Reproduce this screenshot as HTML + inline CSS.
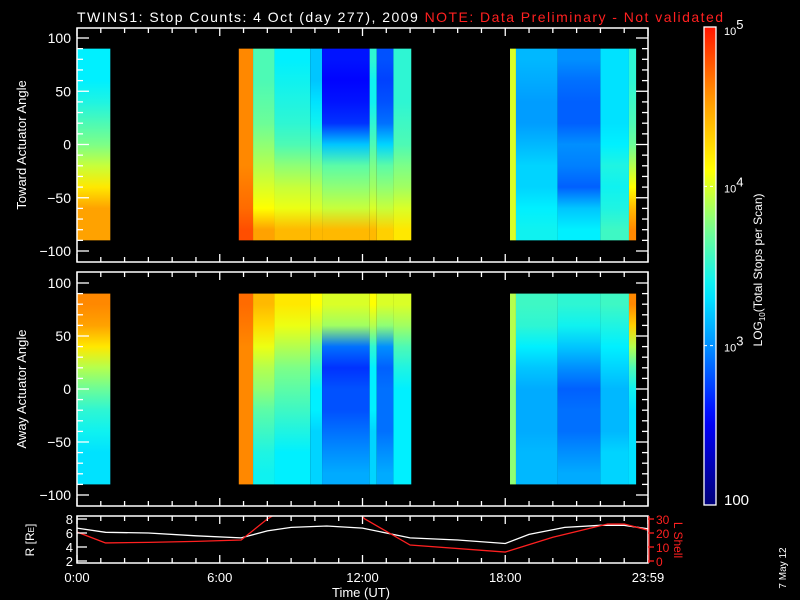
<!DOCTYPE html>
<html><head><meta charset="utf-8"><style>
html,body{margin:0;padding:0;background:#000;}
svg{display:block;font-family:"Liberation Sans",sans-serif;}
</style></head><body>
<svg id="chart" width="800" height="600" viewBox="0 0 800 600">
<defs id="defs"></defs>
<text x="77" y="22" font-size="14" fill="#fff" textLength="646" lengthAdjust="spacing">TWINS1: Stop Counts:  4 Oct (day 277), 2009  <tspan fill="#ff2020">NOTE: Data Preliminary - Not validated</tspan></text>
<g id="spec1"></g>
<g id="spec2"></g>
<g id="orbit"></g>
<g id="axes"></g>
<g id="cbar"></g>
<text transform="translate(26,145) rotate(-90)" text-anchor="middle" font-size="13" fill="#fff">Toward Actuator Angle</text>
<text transform="translate(26,389) rotate(-90)" text-anchor="middle" font-size="13" fill="#fff">Away Actuator Angle</text>
<text transform="translate(34,540) rotate(-90)" text-anchor="middle" font-size="12" fill="#fff">R [R<tspan font-size="8">E</tspan>]</text>
<text transform="translate(674,540) rotate(90)" text-anchor="middle" font-size="12" fill="#ff2020">L Shell</text>
<text x="361" y="597" text-anchor="middle" font-size="13" fill="#fff">Time (UT)</text>
<text transform="translate(762,270) rotate(-90)" text-anchor="middle" font-size="12" fill="#fff">LOG<tspan font-size="8" dy="3">10</tspan><tspan dy="-3">(Total Stops per Scan)</tspan></text>
<text transform="translate(786,568) rotate(-90)" text-anchor="middle" font-size="10" fill="#fff">7 May 12</text>
</svg>
<script>
// ---- data ----
const colStart=[0,6.8,7.4,8.3,9.8,10.3,12.3,12.6,13.3,18.2,18.45,20.2,22.0,23.2];
const colEnd=[1.4,7.4,8.3,9.8,10.3,12.3,12.6,13.3,14.05,18.45,20.2,22.0,23.2,23.5];
const angleBins=[80,60,40,20,0,-20,-40,-60,-80];
const towardVals=[
[3.35,3.35,3.45,3.6,3.75,3.95,4.2,4.5,4.5],
[4.6,4.6,4.6,4.6,4.6,4.6,4.65,4.7,4.8],
[3.6,3.6,3.65,3.7,3.8,3.9,4.0,4.1,4.5],
[3.35,3.4,3.45,3.5,3.6,3.8,3.95,4.05,4.4],
[3.2,3.2,3.3,3.4,3.55,3.75,3.9,4.0,4.4],
[2.6,2.55,2.6,2.7,3.2,3.65,3.8,3.95,4.4],
[3.5,3.4,3.4,3.5,3.6,3.75,3.85,4.0,4.4],
[2.8,2.75,2.8,2.9,3.25,3.65,3.8,3.95,4.3],
[3.5,3.5,3.5,3.55,3.6,3.75,3.85,4.0,4.2],
[4.0,4.0,4.0,4.0,4.0,4.0,4.0,4.0,4.0],
[3.15,3.1,3.05,3.05,3.15,3.25,3.25,3.35,3.4],
[3.0,2.9,2.85,2.85,3.0,2.95,2.85,3.2,3.35],
[3.3,3.3,3.3,3.3,3.35,3.45,3.4,3.45,3.55],
[3.5,3.5,3.55,3.6,3.7,3.9,4.1,4.4,4.6]];
const awayVals=[
[4.6,4.5,4.2,3.9,3.7,3.5,3.4,3.3,3.3],
[4.7,4.65,4.6,4.6,4.6,4.6,4.6,4.6,4.6],
[4.4,4.25,4.05,3.9,3.8,3.65,3.55,3.45,3.4],
[4.2,4.05,3.9,3.75,3.65,3.55,3.45,3.35,3.35],
[4.1,3.95,3.7,3.5,3.35,3.35,3.25,3.25,3.25],
[4.0,3.85,2.9,2.7,2.8,2.8,2.9,3.0,3.1],
[4.1,3.9,3.5,3.35,3.35,3.35,3.25,3.25,3.25],
[4.0,3.8,3.0,2.85,2.9,2.9,2.9,3.0,3.1],
[4.0,3.85,3.6,3.45,3.35,3.35,3.35,3.35,3.35],
[3.9,3.9,3.9,3.85,3.8,3.8,3.8,3.8,3.8],
[3.55,3.5,3.35,3.2,3.1,3.1,3.1,3.15,3.15],
[3.5,3.4,3.2,3.0,2.85,2.9,2.9,3.0,3.1],
[3.55,3.45,3.35,3.25,3.15,3.15,3.15,3.25,3.25],
[4.6,4.3,3.9,3.6,3.4,3.3,3.3,3.3,3.3]];
const rTimes=[0,1.2,3,5,6.9,8,9,10.5,12,13,14,16,18,19,20.5,22,23,24];
const rVals=[6.7,6.1,6.0,5.6,5.3,6.3,6.8,7.0,6.7,6.0,5.3,5.0,4.5,5.8,6.8,7.1,7.1,6.6];
const lTimes=[0,1.2,3,5,6.9,8,8.5,11.8,12.1,14,18,20,22.3,23,24];
const lVals=[20.7,12.9,13.3,14,15,30,35,35,30,11.4,6.4,17,26.4,26.4,22];
const xTickLabels=["0:00","6:00","12:00","18:00","23:59"];
const xTickHours=[0,6,12,18,24];
const angleTicks=[100,50,0,-50,-100];
const rTicks=[2,4,6,8];
const lTicks=[0,10,20,30];
const cbarTicks=[2,3,4,5];
// ---- scales ----
const NS="http://www.w3.org/2000/svg";
const X0=77,X1=648;
const xs=h=>X0+h*(X1-X0)/24;
const panels=[{top:28,bot:262,y100:38,yn100:251,vals:towardVals,g:"spec1"},{top:272,bot:506,y100:283,yn100:495,vals:awayVals,g:"spec2"}];
function mk(tag,attrs,parent){const e=document.createElementNS(NS,tag);for(const k in attrs)e.setAttribute(k,attrs[k]);parent.appendChild(e);return e;}
const stops=[[0,[0,0,120]],[0.18,[0,0,255]],[0.33,[0,140,255]],[0.45,[0,240,255]],[0.58,[120,255,140]],[0.7,[255,255,0]],[0.85,[255,150,0]],[1,[255,20,0]]];
function cmap(v){let t=Math.max(0,Math.min(1,(v-2)/3));for(let i=1;i<stops.length;i++){if(t<=stops[i][0]){const a=stops[i-1],b=stops[i];const f=(t-a[0])/(b[0]-a[0]);const c=a[1].map((x,j)=>Math.round(x+(b[1][j]-x)*f));return `rgb(${c.join(',')})`;}}return 'rgb(255,20,0)';}
const defs=document.getElementById('defs');
panels.forEach((p,pi)=>{
  const ys=a=>p.y100+(100-a)*(p.yn100-p.y100)/200;
  const g=document.getElementById(p.g);
  colStart.forEach((s,ci)=>{
    const id=`gr${pi}_${ci}`;
    const lg=mk('linearGradient',{id:id,x1:0,y1:0,x2:0,y2:1},defs);
    angleBins.forEach((a,bi)=>{mk('stop',{offset:((ys(a)-ys(90))/(ys(-90)-ys(90))).toFixed(3),'stop-color':cmap(p.vals[ci][bi])},lg);});
    const r=mk('rect',{x:xs(s),y:ys(90),width:xs(colEnd[ci])-xs(s),height:ys(-90)-ys(90),fill:`url(#${id})`},g);
    
    
  });
});
// axes
const ax=document.getElementById('axes');
function line(x1,y1,x2,y2,c,parent){return mk('line',{x1,y1,x2,y2,stroke:c||'#fff','stroke-width':1.3},parent||ax);}
function xticks(top,bot){for(let h=0;h<=24;h++){const L=h%6===0?8:5;line(xs(h),bot,xs(h),bot-L);line(xs(h),top,xs(h),top+L);}}
panels.forEach(p=>{
  const ys=a=>p.y100+(100-a)*(p.yn100-p.y100)/200;
  const r=mk('rect',{x:X0,y:p.top,width:X1-X0,height:p.bot-p.top,fill:'none',stroke:'#fff','stroke-width':1.5},ax);
  
  xticks(p.top,p.bot);
  for(let a=-100;a<=100;a+=10){const L=a%50===0?12:6;line(X0,ys(a),X0+L,ys(a));line(X1,ys(a),X1-L,ys(a));}
  angleTicks.forEach(a=>{const t=mk('text',{x:X0-6,y:ys(a)+5,'text-anchor':'end','font-size':14,fill:'#fff'},ax);t.textContent=a===-50||a===-100?'\u2212'+(-a):a;
    });
});
// orbit panel
const OT=516,OB=563;
const ry=v=>519+(8-v)*(561-519)/6;
const ly=v=>561-v*(561-519)/30;
const og=document.getElementById('orbit');
const fr=mk('rect',{x:X0,y:OT,width:X1-X0,height:OB-OT,fill:'none',stroke:'#fff','stroke-width':1.5},ax);

xticks(OT,OB);
rTicks.forEach(v=>{line(X0,ry(v),X0+10,ry(v));const t=mk('text',{x:X0-4,y:ry(v)+5,'text-anchor':'end','font-size':13,fill:'#fff'},ax);t.textContent=v;});
lTicks.forEach(v=>{line(X1,ly(v),X1+6,ly(v),'#ff2020');const t=mk('text',{x:X1+8,y:ly(v)+5,'font-size':12,fill:'#ff2020'},ax);t.textContent=v;});
line(X1+1,OT,X1+1,OB,'#ff2020');
mk('clipPath',{id:'oc'},defs).appendChild(document.createElementNS(NS,'rect'));
const cr=defs.querySelector('#oc rect');cr.setAttribute('x',X0);cr.setAttribute('y',OT);cr.setAttribute('width',X1-X0);cr.setAttribute('height',OB-OT);
const rp=mk('polyline',{points:rTimes.map((t,i)=>xs(t)+','+ry(rVals[i])).join(' '),fill:'none',stroke:'#fff','stroke-width':1.3,'clip-path':'url(#oc)'},og);

const lp=mk('polyline',{points:lTimes.map((t,i)=>xs(t)+','+ly(lVals[i])).join(' '),fill:'none',stroke:'#ff2020','stroke-width':1.3,'clip-path':'url(#oc)'},og);

xTickHours.forEach((h,i)=>{const t=mk('text',{x:xs(h),y:582,'text-anchor':'middle','font-size':13,fill:'#fff'},ax);t.textContent=xTickLabels[i];});
// colorbar
const cb=document.getElementById('cbar');
const CT=27,CB=505,CX=704,CW=12;
const cy=v=>CB-(v-2)*(CB-CT)/3;
const cg=mk('linearGradient',{id:'cbg',x1:0,y1:1,x2:0,y2:0},defs);
for(let i=0;i<=30;i++){mk('stop',{offset:i/30,'stop-color':cmap(2+i*0.1)},cg);}
const cbr=mk('rect',{x:CX,y:CT,width:CW,height:CB-CT,fill:'url(#cbg)',stroke:'#fff','stroke-width':1.3},cb);

cbarTicks.forEach(v=>{
  if(v>2&&v<5){mk('line',{x1:CX,y1:cy(v),x2:CX+CW,y2:cy(v),stroke:'#fff','stroke-dasharray':'3,3'},cb);}
  const t=mk('text',{x:CX+CW+8,y:cy(v)+(v===5?8:v===2?0:6),'font-size':v===2?15:11,fill:'#fff'},cb);
  if(v===2){t.textContent='100';}else{t.textContent='10';const s=document.createElementNS(NS,'tspan');s.setAttribute('dy','-6');s.setAttribute('font-size','13');s.textContent=v;t.appendChild(s);}
  
});
</script>
</body></html>
